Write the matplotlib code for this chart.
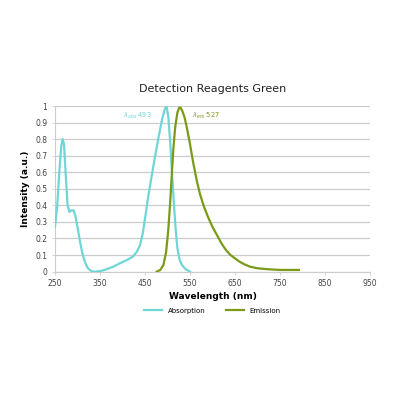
import matplotlib
matplotlib.use("Agg")
import matplotlib.pyplot as plt

# Absorption spectrum (wavelength nm, intensity)
abs_wl = [250, 255, 260, 264, 267, 270, 274, 278, 282, 286, 291, 295, 300, 305, 310, 315, 320, 325, 330,
          335, 340, 350, 360, 370, 380, 394, 410, 423, 432, 439, 445, 450, 457, 465, 472, 480, 488, 494, 498,
          502, 506, 510, 514, 518, 522, 527, 532, 540, 550]
abs_int = [0.27, 0.40, 0.62, 0.76, 0.80, 0.77, 0.58, 0.40, 0.36, 0.37, 0.37, 0.34, 0.27, 0.19, 0.12, 0.07,
           0.035, 0.015, 0.005, 0.0, 0.0, 0.003, 0.01, 0.02, 0.03, 0.05, 0.07, 0.09, 0.12, 0.16, 0.23, 0.32,
           0.45, 0.58, 0.69, 0.81, 0.92, 0.98, 1.0, 0.93, 0.78, 0.60, 0.42, 0.26, 0.14, 0.07, 0.04, 0.015, 0.0]

# Emission spectrum
em_wl = [476, 484, 491, 497, 502, 506, 509, 513, 517, 522, 526, 529, 533, 538, 543, 550, 557, 565, 572,
         580, 590, 600, 610, 620, 630, 640, 650, 660, 670, 683, 700, 720, 750, 792]
em_int = [0.0, 0.01, 0.04, 0.12, 0.26, 0.42, 0.56, 0.74, 0.87, 0.96, 0.99, 0.99, 0.97, 0.93, 0.87, 0.77,
          0.66, 0.55, 0.47, 0.40, 0.33, 0.27, 0.22, 0.17, 0.13, 0.10, 0.08, 0.06, 0.045, 0.03, 0.02, 0.015,
          0.01, 0.01]

x_ticks = [250, 350, 450, 550, 650, 750, 850, 950]
y_ticks = [0, 0.1, 0.2, 0.3, 0.4, 0.5, 0.6, 0.7, 0.8, 0.9, 1]
y_tick_labels = ["0", "0.1", "0.2", "0.3", "0.4", "0.5", "0.6", "0.7", "0.8", "0.9", "1"]

cyan = "#6fd6d6"
green = "#7a9a18"

fig = plt.figure(figsize=(4, 4), dpi=100)
ax = fig.add_axes([0.1375, 0.321, 0.7875, 0.414])
ax.plot(abs_wl, abs_int, color=cyan, lw=1.6, label="Absorption", zorder=3)
ax.plot(em_wl, em_int, color=green, lw=1.6, label="Emission", zorder=3)

ax.set_xlim(250, 950)
ax.set_ylim(0, 1)
ax.set_xticks(x_ticks)
ax.set_xticklabels([str(t) for t in x_ticks])
ax.set_yticks(y_ticks)
ax.set_yticklabels(y_tick_labels)
ax.grid(axis="y", color="#cccccc", lw=0.9)
ax.set_axisbelow(True)
for s in ["top", "right"]:
    ax.spines[s].set_visible(False)
for s in ["left", "bottom"]:
    ax.spines[s].set_color("#cccccc")
ax.tick_params(axis="both", labelsize=5.5, colors="#cccccc", labelcolor="#444444", length=2, width=0.6)

ax.set_title("Detection Reagents Green", fontsize=8, color="#222222", pad=10)
ax.set_ylabel("Intensity (a.u.)", fontsize=6.5, fontweight="bold", labelpad=4)
ax.set_xlabel("Wavelength (nm)", fontsize=6.5, fontweight="bold", labelpad=3)

ax.text(465, 0.94, r"$\lambda_{abs}$ 493", color=cyan, fontsize=4.8, ha="right", va="center")
ax.text(555, 0.94, r"$\lambda_{em}$ 527", color=green, fontsize=4.8, ha="left", va="center")

leg = ax.legend(loc="upper center", bbox_to_anchor=(0.5, -0.18), ncol=2, frameon=False,
                fontsize=5, handlelength=2.6, columnspacing=3)

fig.savefig("out.png", dpi=100, facecolor="white")
